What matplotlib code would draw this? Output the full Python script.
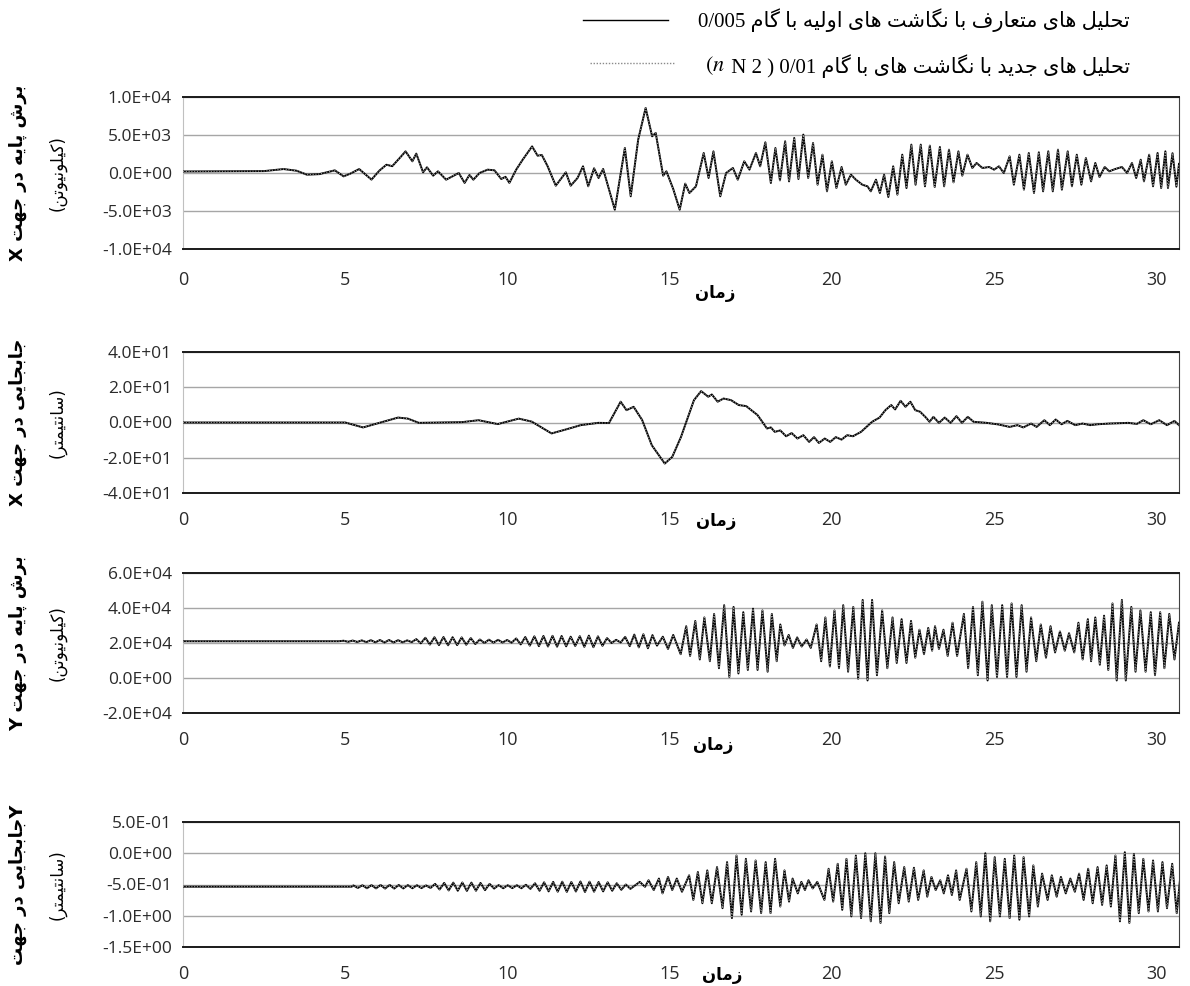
import matplotlib
matplotlib.use('Agg')
import matplotlib.pyplot as plt
from matplotlib.lines import Line2D
from matplotlib.ticker import FuncFormatter, MultipleLocator

plt.rcParams['mathtext.fontset'] = 'stix'

# ---- data: (time [s], value) at the turning points ----
# base shear X (kN)
shear_x = [
    (0, 200), (2.5, 250), (3.1, 520), (3.5, 300), (3.82, -220), (4.2, -150), (4.68, 350),
    (4.95, -440), (5.15, -100), (5.43, 520), (5.81, -870), (6.05, 300), (6.27, 1090),
    (6.45, 900), (6.68, 1975), (6.86, 2850), (7.07, 1540), (7.19, 2550), (7.40, 90),
    (7.52, 750), (7.71, -350), (7.86, 220), (8.11, -880), (8.50, 0), (8.68, -1300),
    (8.83, -260), (8.95, -880), (9.14, 0), (9.39, 440), (9.60, 350), (9.81, -790),
    (9.94, -500), (10.06, -1300), (10.27, 440), (10.47, 1750), (10.76, 3500), (10.93, 2280),
    (11.06, 2370), (11.24, 880), (11.49, -1670), (11.80, 90), (11.95, -1670), (12.16, -660),
    (12.33, 880), (12.49, -1750), (12.67, 620), (12.81, -660), (12.95, 530), (13.31, -4830),
    (13.62, 3300), (13.80, -3070), (14.03, 4390), (14.26, 8560), (14.46, 4830), (14.57, 5270),
    (14.80, -350), (14.90, 220), (15.11, -2100), (15.31, -4830), (15.48, -1400), (15.61, -2630),
    (15.81, -1760), (16.05, 2630), (16.20, -660), (16.35, 2850), (16.56, -3070), (16.74, 0),
    (16.95, 660), (17.10, -880), (17.30, 1540), (17.46, 440), (17.66, 2630), (17.79, 880),
    (17.95, 4040), (18.12, -1320), (18.26, 3290), (18.40, -970), (18.56, 4170), (18.68, -1100),
    (18.84, 4610), (18.97, -790), (19.12, 5050), (19.27, -660), (19.42, 3950), (19.56, -1540),
    (19.71, 2410), (19.85, -2410), (20.00, 1540), (20.14, -1980), (20.30, 790), (20.43, -1540),
    (20.59, -220), (20.74, -880), (20.94, -1540), (21.10, -1760), (21.20, -2410), (21.36, -880),
    (21.48, -2630), (21.61, -220), (21.74, -3160), (21.89, 880), (22.02, -2850), (22.17, 2410),
    (22.30, -1980), (22.45, 3730), (22.58, -1540), (22.74, 3730), (22.87, -1750), (23.02, 3600),
    (23.17, -1840), (23.33, 3420), (23.46, -1750), (23.61, 3070), (23.75, -1230), (23.90, 2850),
    (24.02, -350), (24.18, 2410), (24.33, 660), (24.46, 1320), (24.64, 660), (24.85, 790),
    (25.00, 440), (25.15, 880), (25.30, 0), (25.48, 2190), (25.61, -1540), (25.78, 2410),
    (25.92, -2190), (26.07, 2630), (26.23, -2630), (26.38, 2720), (26.51, -2410), (26.67, 2850),
    (26.81, -2410), (26.97, 3070), (27.09, -2190), (27.27, 2850), (27.40, -1750), (27.55, 2410),
    (27.69, -1540), (27.83, 1970), (27.99, -1100), (28.12, 1320), (28.25, -530), (28.41, 790),
    (28.55, 220), (28.74, 530), (28.94, 790), (29.10, 0), (29.25, 1320), (29.38, -660),
    (29.52, 1750), (29.62, -1100), (29.78, 2410), (29.90, -1750), (30.04, 2630), (30.15, -1980),
    (30.28, 2850), (30.36, -1970), (30.50, 2600), (30.62, -1800), (30.70, 1200),
]

# displacement X (cm)
disp_x = [
    (0, 0), (5.0, 0), (5.55, -2.8), (6.63, 2.8), (6.93, 2.2), (7.27, -0.2), (8.6, 0.2),
    (9.11, 1.3), (9.70, -0.9), (10.35, 2.2), (10.75, 0.5), (11.36, -6.2), (11.85, -3.7),
    (12.26, -1.5), (12.80, -0.2), (13.13, -0.3), (13.49, 11.8), (13.67, 7.0), (13.89, 8.9),
    (14.15, 1.5), (14.45, -12.9), (14.85, -23.3), (15.08, -19.5), (15.35, -8.2), (15.55, 2.3),
    (15.75, 12.7), (15.97, 17.8), (16.19, 14.6), (16.30, 15.9), (16.48, 11.8), (16.66, 13.6),
    (16.89, 12.7), (17.13, 9.9), (17.36, 9.3), (17.71, 4.2), (18.00, -3.4), (18.12, -2.8),
    (18.24, -5.3), (18.41, -4.5), (18.59, -7.8), (18.76, -6.0), (18.94, -9.1), (19.12, -7.2),
    (19.30, -11.0), (19.45, -8.3), (19.60, -11.6), (19.78, -9.1), (19.95, -11.0), (20.12, -8.3),
    (20.30, -9.7), (20.47, -7.2), (20.65, -7.8), (20.90, -5.3), (21.24, 0.4), (21.47, 2.8),
    (21.65, 7.0), (21.83, 9.9), (21.95, 7.4), (22.12, 12.3), (22.27, 8.9), (22.42, 11.8),
    (22.57, 7.0), (22.72, 6.1), (22.90, 2.8), (23.01, 0.4), (23.13, 3.2), (23.30, -0.2),
    (23.48, 2.8), (23.66, -0.2), (23.84, 3.6), (24.01, -0.2), (24.19, 3.2), (24.37, 0.4),
    (24.77, -0.2), (25.13, -1.1), (25.48, -2.5), (25.72, -1.5), (25.90, -2.8), (26.14, -0.6),
    (26.31, -2.5), (26.55, 1.3), (26.72, -1.5), (26.90, 1.7), (27.08, -1.0), (27.26, 0.9),
    (27.50, -1.5), (27.73, -0.6), (27.96, -1.5), (28.20, -1.0), (28.55, -0.6), (29.14, -0.2),
    (29.40, -0.8), (29.60, 1.3), (29.83, -1.0), (30.09, 1.3), (30.33, -1.5), (30.56, 0.9),
    (30.70, -1.5),
]

# base shear Y (kN)
shear_y = [
    (0, 21000), (4.8, 21000),
    (4.95, 21300), (5.09, 20700), (5.23, 21400), (5.37, 20600), (5.51, 21500), (5.65, 20500),
    (5.79, 21600), (5.93, 20400), (6.07, 21700), (6.21, 20300), (6.35, 21700), (6.49, 20300),
    (6.63, 21600), (6.77, 20400), (6.91, 21500), (7.05, 20500),
    (7.19, 22200), (7.33, 19800), (7.47, 23000), (7.61, 19100), (7.75, 23300), (7.89, 18800),
    (8.03, 23400), (8.17, 18700), (8.31, 23300), (8.45, 18800), (8.59, 23200), (8.73, 19000),
    (8.87, 22800), (9.01, 19400),
    (9.15, 22000), (9.29, 20000), (9.43, 21900), (9.57, 20200), (9.71, 21800), (9.85, 20300),
    (9.99, 21700), (10.13, 20200),
    (10.27, 22600), (10.41, 19200), (10.55, 23400), (10.69, 18500), (10.83, 23800), (10.97, 18200),
    (11.11, 24000), (11.25, 18000), (11.39, 24100), (11.53, 17900), (11.67, 24000), (11.81, 18100),
    (11.95, 23600), (12.09, 18300), (12.23, 23900), (12.37, 17800), (12.51, 24200), (12.65, 17600),
    (12.79, 23800), (12.93, 18400), (13.07, 22800),
    (13.21, 20000), (13.35, 21800), (13.49, 20300),
    (13.63, 23500), (13.77, 18200), (13.91, 24800), (14.05, 17500), (14.19, 25000), (14.33, 17000),
    (14.47, 24500), (14.61, 18500), (14.79, 23600), (14.95, 16600), (15.11, 24600),
    (15.34, 13600), (15.51, 29600), (15.63, 12600), (15.79, 32600), (15.93, 10600), (16.07, 34600),
    (16.24, 9600), (16.37, 36600), (16.52, 5600), (16.68, 41600), (16.84, 600), (16.97, 40600),
    (17.12, 2600), (17.27, 37600), (17.41, 4600), (17.57, 39600), (17.71, 4600), (17.86, 38600),
    (18.02, 3600), (18.15, 36600), (18.30, 9600), (18.41, 30600),
    (18.54, 18600), (18.67, 24600), (18.80, 17200), (18.93, 23200), (19.07, 18000), (19.22, 22000),
    (19.35, 17200),
    (19.53, 30600), (19.67, 9600), (19.80, 34600), (19.94, 6600), (20.08, 38600), (20.22, 5600),
    (20.35, 41600), (20.50, 3600), (20.66, 40600), (20.81, -400), (20.95, 44600), (21.10, -1400),
    (21.24, 44600), (21.39, 1600), (21.55, 38600), (21.71, 5600), (21.87, 34600), (22.00, 8600),
    (22.15, 33600), (22.30, 8600), (22.44, 32600), (22.57, 11600), (22.70, 27600), (22.84, 13600),
    (22.97, 28600), (23.09, 15600),
    (23.18, 29600), (23.30, 16600), (23.44, 27600), (23.57, 12600), (23.72, 31600), (23.86, 12600),
    (24.07, 36600), (24.20, 5600), (24.35, 40600), (24.50, 1600), (24.64, 43600), (24.80, -1400),
    (24.93, 41600), (25.09, 600), (25.25, 41600), (25.40, 600), (25.54, 42600), (25.69, 600),
    (25.85, 41600), (26.00, 3600), (26.14, 34600), (26.30, 9600), (26.44, 30600), (26.60, 11600),
    (26.74, 29600), (26.88, 14600), (27.03, 26600), (27.18, 15600), (27.31, 25600), (27.47, 14600),
    (27.60, 31600), (27.73, 10600), (27.89, 33600), (27.99, 9600), (28.12, 34600), (28.26, 7600),
    (28.39, 35600), (28.52, 4600), (28.65, 42600), (28.78, -1400), (28.94, 44600), (29.06, -1400),
    (29.23, 40600), (29.36, 3600), (29.51, 38600), (29.67, 3600), (29.83, 37600), (29.96, 1600),
    (30.12, 37600), (30.25, 5600), (30.40, 36600), (30.56, 10600), (30.70, 31600),
]

# displacement Y (cm)
disp_y = [
    (0, -0.535), (5.2, -0.535),
    (5.25, -0.515), (5.39, -0.555), (5.53, -0.512), (5.67, -0.560), (5.81, -0.510), (5.95, -0.562),
    (6.09, -0.508), (6.23, -0.565), (6.37, -0.507), (6.51, -0.565), (6.65, -0.508), (6.79, -0.563),
    (6.93, -0.510), (7.07, -0.560), (7.21, -0.512), (7.35, -0.558), (7.49, -0.515), (7.63, -0.555),
    (7.77, -0.49), (7.91, -0.58), (8.05, -0.475), (8.19, -0.595), (8.33, -0.47), (8.47, -0.60),
    (8.61, -0.468), (8.75, -0.602), (8.89, -0.47), (9.03, -0.60), (9.17, -0.475), (9.31, -0.59),
    (9.45, -0.49),
    (9.59, -0.565), (9.73, -0.51), (9.87, -0.56), (10.01, -0.512), (10.15, -0.558), (10.29, -0.512),
    (10.43, -0.56), (10.57, -0.505), (10.71, -0.57),
    (10.85, -0.48), (10.99, -0.60), (11.13, -0.465), (11.27, -0.61), (11.41, -0.458), (11.55, -0.615),
    (11.69, -0.455), (11.83, -0.618), (11.97, -0.46), (12.11, -0.612), (12.25, -0.452), (12.39, -0.62),
    (12.53, -0.455), (12.67, -0.615), (12.81, -0.46), (12.95, -0.61), (13.09, -0.465), (13.23, -0.60),
    (13.37, -0.48), (13.51, -0.585), (13.65, -0.50), (13.79, -0.57),
    (14.08, -0.458), (14.24, -0.537), (14.35, -0.432), (14.51, -0.589), (14.67, -0.405), (14.78, -0.642),
    (14.95, -0.379), (15.08, -0.589), (15.22, -0.405), (15.38, -0.616),
    (15.60, -0.353), (15.73, -0.747), (15.87, -0.300), (16.01, -0.800), (16.16, -0.274), (16.30, -0.800),
    (16.46, -0.221), (16.63, -0.879), (16.77, -0.142), (16.92, -1.037), (17.06, -0.037), (17.22, -0.984),
    (17.35, -0.090), (17.51, -0.931), (17.65, -0.116), (17.82, -0.958), (17.96, -0.142), (18.11, -0.958),
    (18.25, -0.090), (18.41, -0.852), (18.54, -0.274), (18.68, -0.774), (18.79, -0.405), (18.95, -0.642),
    (19.06, -0.458), (19.17, -0.589), (19.28, -0.432), (19.41, -0.563), (19.55, -0.458), (19.77, -0.747),
    (19.90, -0.248), (20.04, -0.774), (20.18, -0.169), (20.32, -0.905), (20.45, -0.090), (20.60, -1.010),
    (20.74, -0.037), (20.90, -1.037), (21.03, 0.000), (21.20, -1.089), (21.34, 0.000), (21.50, -1.115),
    (21.64, -0.053), (21.77, -0.958), (21.92, -0.142), (22.06, -0.800), (22.23, -0.221), (22.37, -0.774),
    (22.53, -0.232), (22.66, -0.747), (22.83, -0.274), (22.94, -0.695), (23.07, -0.379), (23.20, -0.589),
    (23.34, -0.432), (23.45, -0.642), (23.58, -0.353), (23.70, -0.668), (23.83, -0.274), (23.94, -0.747),
    (24.15, -0.248), (24.30, -0.931), (24.45, -0.142), (24.59, -1.010), (24.73, 0.000), (24.88, -1.089),
    (25.02, -0.063), (25.18, -1.010), (25.33, -0.090), (25.48, -1.037), (25.62, -0.037), (25.78, -1.063),
    (25.91, -0.063), (26.08, -1.010), (26.21, -0.195), (26.35, -0.852), (26.48, -0.326), (26.65, -0.747),
    (26.78, -0.353), (26.93, -0.695), (27.06, -0.379), (27.21, -0.642), (27.35, -0.405), (27.49, -0.616),
    (27.62, -0.326), (27.76, -0.747), (27.90, -0.248), (28.04, -0.800), (28.19, -0.221), (28.33, -0.826),
    (28.47, -0.195), (28.60, -0.852), (28.74, -0.037), (28.88, -1.089), (29.03, 0.016), (29.17, -1.115),
    (29.31, -0.011), (29.46, -0.958), (29.60, -0.090), (29.76, -0.931), (29.90, -0.116), (30.05, -0.931),
    (30.19, -0.142), (30.33, -0.879), (30.49, -0.169), (30.63, -0.958), (30.76, -0.274),
]

# the dotted (new method, dt=0.01) curves lie on top of the solid ones at this resolution
shear_x_new = list(shear_x)
disp_x_new = list(disp_x)
shear_y_new = list(shear_y)
disp_y_new = list(disp_y)

ylims = [(-1e4, 1e4, 5e3), (-40, 40, 20), (-2e4, 6e4, 2e4), (-1.5, 0.5, 0.5)]

# ---- minimal persian shaping (matplotlib draws glyphs left to right, unjoined) ----
FORMS = {
    'ا': ('\uFE8D', '\uFE8E', None, None),
    'ب': ('\uFE8F', '\uFE90', '\uFE91', '\uFE92'),
    'پ': ('\uFB56', '\uFB57', '\uFB58', '\uFB59'),
    'ت': ('\uFE95', '\uFE96', '\uFE97', '\uFE98'),
    'ج': ('\uFE9D', '\uFE9E', '\uFE9F', '\uFEA0'),
    'ح': ('\uFEA1', '\uFEA2', '\uFEA3', '\uFEA4'),
    'د': ('\uFEA9', '\uFEAA', None, None),
    'ر': ('\uFEAD', '\uFEAE', None, None),
    'ز': ('\uFEAF', '\uFEB0', None, None),
    'س': ('\uFEB1', '\uFEB2', '\uFEB3', '\uFEB4'),
    'ش': ('\uFEB5', '\uFEB6', '\uFEB7', '\uFEB8'),
    'ع': ('\uFEC9', '\uFECA', '\uFECB', '\uFECC'),
    'ف': ('\uFED1', '\uFED2', '\uFED3', '\uFED4'),
    'ک': ('\uFB8E', '\uFB8F', '\uFB90', '\uFB91'),
    'گ': ('\uFB92', '\uFB93', '\uFB94', '\uFB95'),
    'ل': ('\uFEDD', '\uFEDE', '\uFEDF', '\uFEE0'),
    'م': ('\uFEE1', '\uFEE2', '\uFEE3', '\uFEE4'),
    'ن': ('\uFEE5', '\uFEE6', '\uFEE7', '\uFEE8'),
    'و': ('\uFEED', '\uFEEE', None, None),
    'ه': ('\uFEE9', '\uFEEA', '\uFEEB', '\uFEEC'),
    'ی': ('\uFBFC', '\uFBFD', '\uFBFE', '\uFBFF'),
}


def fa(s):
    out = []
    for i, c in enumerate(s):
        if c not in FORMS:
            out.append(c)
            continue
        iso, fin, ini, med = FORMS[c]
        prev = s[i - 1] if i > 0 else ''
        nxt = s[i + 1] if i < len(s) - 1 else ''
        jp = prev in FORMS and FORMS[prev][2] is not None
        jn = nxt in FORMS and ini is not None
        if jp and jn:
            out.append(med)
        elif jp:
            out.append(fin)
        elif jn:
            out.append(ini)
        else:
            out.append(iso)
    return ''.join(out[::-1])


W, H = 1190, 986
fig = plt.figure(figsize=(W / 100, H / 100), dpi=100)

# axes boxes in pixels: top, bottom
boxes = [(97, 249), (352, 493), (573, 713), (822, 947)]
x_left, x_right = 183, 1179
series = [(shear_x, shear_x_new), (disp_x, disp_x_new), (shear_y, shear_y_new), (disp_y, disp_y_new)]

ylab1 = ['X ' + fa('برش پایه در جهت'),
         'X ' + fa('جابجایی در جهت'),
         'Y ' + fa('برش پایه در جهت'),
         fa('جابجایی در جهت') + 'Y']
ylab2 = ['(' + fa('کیلونیوتن') + ')',
         '(' + fa('سانتیمتر') + ')',
         '(' + fa('کیلونیوتن') + ')',
         '(' + fa('سانتیمتر') + ')']
xlab_pos = [(715, 293), (716, 521), (713, 745), (722, 975)]

axes = []
for k, (top, bot) in enumerate(boxes):
    ax = fig.add_axes([x_left / W, 1 - bot / H, (x_right - x_left) / W, (bot - top) / H])
    old, new = series[k]
    t, v = zip(*old)
    ax.plot(t, v, color='black', lw=1.4, zorder=3)
    t, v = zip(*new)
    ax.plot(t, v, color='#9a9a9a', lw=0.8, ls=(0, (1, 1.5)), zorder=4)

    lo, hi, step = ylims[k]
    ax.set_ylim(lo, hi)
    ax.set_xlim(0, 30.7)
    ax.yaxis.set_major_locator(MultipleLocator(step))
    ax.xaxis.set_major_locator(MultipleLocator(5))
    ax.yaxis.set_major_formatter(FuncFormatter(lambda val, pos: f'{val:.1E}'))
    ax.grid(axis='y', color='#a6a6a6', lw=1.0)
    ax.set_axisbelow(True)
    ax.tick_params(length=0, labelsize=12.5, colors='#2a2a2a')
    ax.tick_params(axis='y', pad=8)
    ax.tick_params(axis='x', pad=16 if k == 0 else 13, labelsize=13)
    for lab in ax.get_xticklabels() + ax.get_yticklabels():
        lab.set_fontfamily('Open Sans')
    ax.spines['top'].set_color('#1a1a1a')
    ax.spines['bottom'].set_color('#1a1a1a')
    ax.spines['top'].set_linewidth(1.4)
    ax.spines['bottom'].set_linewidth(1.4)
    ax.spines['left'].set_color('#c0c0c0')
    ax.spines['right'].set_color('#404040')
    axes.append(ax)

    yc = 1 - (top + bot) / 2 / H
    fig.text(18 / W, yc, ylab1[k], rotation=90, ha='center', va='center',
             fontsize=13, fontweight='bold', family='DejaVu Sans')
    fig.text(57 / W, yc, ylab2[k], rotation=90, ha='center', va='center',
             fontsize=12, family='DejaVu Sans')
    xl, yl = xlab_pos[k]
    fig.text(xl / W, 1 - yl / H, fa('زمان'), ha='center', va='center',
             fontsize=12, fontweight='bold', family='DejaVu Sans')

# legend (hand placed, right aligned like the original)
fam = ['Liberation Serif', 'DejaVu Sans']
row1 = fig.text(1130 / W, 1 - 20 / H, '0/005 ' + fa('تحلیل های متعارف با نگاشت های اولیه با گام'),
                ha='right', va='center', fontsize=15, family=fam)
row2 = fig.text(1130 / W, 1 - 66 / H, ' N 2 ) 0/01 ' + fa('تحلیل های جدید با نگاشت های با گام'),
                ha='right', va='center', fontsize=15, family=fam)
fig.canvas.draw()
r = fig.canvas.get_renderer()
b1 = row1.get_window_extent(r)
b2 = row2.get_window_extent(r)
row2b = fig.text((b2.x0 - 1) / W, 1 - 66 / H, r'$(n$', ha='right', va='center', fontsize=16)
fig.canvas.draw()
b3 = row2b.get_window_extent(r)

fig.add_artist(Line2D([(b1.x0 - 115) / W, (b1.x0 - 30) / W], [1 - 20 / H, 1 - 20 / H],
                      transform=fig.transFigure, color='black', lw=1.0))
fig.add_artist(Line2D([(b3.x0 - 115) / W, (b3.x0 - 30) / W], [1 - 63 / H, 1 - 63 / H],
                      transform=fig.transFigure, color='#8a8a8a', lw=1.0, ls=(0, (1, 1.2))))

fig.savefig('out.png', dpi=100)
